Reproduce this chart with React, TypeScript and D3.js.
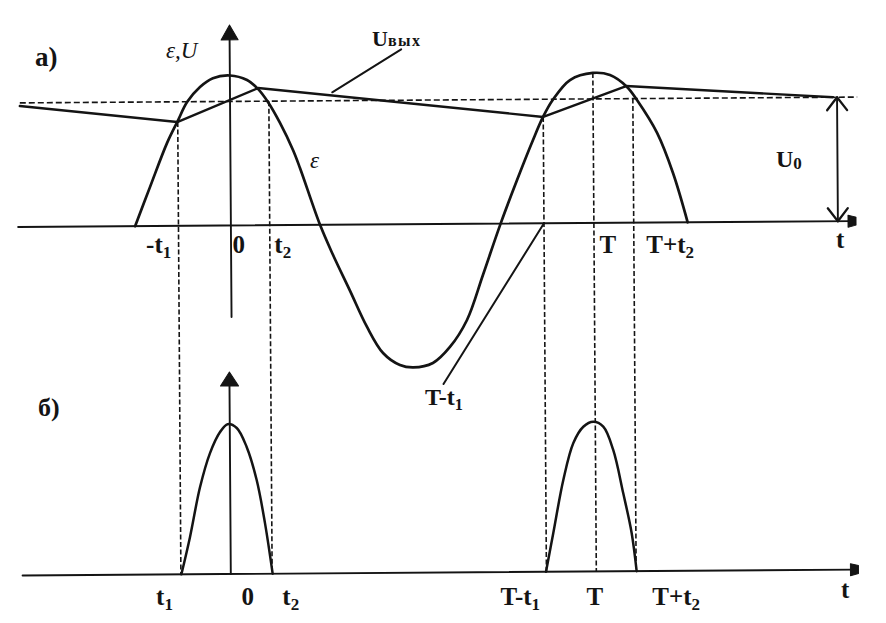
import React from "react";
import * as d3 from "d3";

// ---- data (phase in degrees: 0 = peak at t=0, 360 = T; values relative to peak amplitude) ----
const epsPhase = [-95, -79.9, -62.8, -51.8, -42.6, -29.7, -16.8, 0, 17, 27.8, 37.6, 49.4, 62.1, 68.9, 88.4, 101, 117.6, 134.3, 150, 166.7, 180, 199.4, 216.4, 233.5, 249.7, 267.5, 284.1, 300.2, 310.3, 320, 337.3, 360, 377, 393.8, 403.6, 423.3, 438.8, 453];
const epsValue = [0, 0.261, 0.552, 0.702, 0.825, 0.925, 0.983, 1.0, 0.969, 0.909, 0.821, 0.681, 0.5, 0.38, 0, -0.2, -0.44, -0.683, -0.857, -0.938, -0.955, -0.926, -0.82, -0.641, -0.34, 0, 0.29, 0.556, 0.709, 0.821, 0.954, 1.0, 0.985, 0.905, 0.817, 0.597, 0.329, 0];

const uOutPhase = [-208.5, -52.5, 28, 310.5, 393, 598];
const uOutValue = [0.806, 0.692, 0.915, 0.709, 0.911, 0.827];

const u0Value = 0.827;
const u0Span = [-208.5, 622];
const u0ArrowPhase = 602;

const pulse1Phase = [-51.5, -42.7, -32.4, -22.3, -12.2, -4.6, 4.4, 14.1, 23.8, 31.7, 39];
const pulse1Value = [0, 0.249, 0.581, 0.807, 0.947, 0.999, 0.973, 0.846, 0.625, 0.339, 0];
const pulse2Phase = [310.1, 317.6, 327.9, 338.1, 348.1, 358, 367.9, 377.6, 387.2, 395.3, 400];
const pulse2Value = [0, 0.258, 0.611, 0.857, 0.965, 0.998, 0.965, 0.809, 0.521, 0.255, 0];

const guidePhase = [-52, 38.5, 310.5, 360, 399.5];
const guideTopValue = [0.692, 0.827, 0.709, 1.0, 0.827];

const tickLabelsTop = ["-t_1", "0", "t_2", "T", "T+t_2"];
const tickValuesTop = [-52, 0, 38.5, 360, 399.5];
const tickLabelsBottom = ["t_1", "0", "t_2", "T-t_1", "T", "T+t_2"];
const tickValuesBottom = [-52, 0, 38.5, 310.5, 360, 399.5];

// ---- layout ----
const W = 886;
const H = 623;
const tickDxTop = [-33, 1, 4, 5, 12];
const tickDxBottom = [-23, 10, 12, -44, -8, 18];
const INK = "#141414";
const FONT = "'Liberation Serif', 'Times New Roman', serif";

function Label({ x, y, text, size = 24, weight = "bold", italic = false, subScale = 0.68, subDy = 5 }: any) {
  const parts = text.split("_");
  return (
    <text x={x} y={y} fontFamily={FONT} fontSize={size} fontWeight={weight} fontStyle={italic ? "italic" : "normal"} fill={INK}>
      <tspan>{parts[0]}</tspan>
      {parts[1] !== undefined && (
        <tspan fontSize={size * subScale} dy={subDy}>{parts[1]}</tspan>
      )}
    </text>
  );
}

export default function App() {
  const x = d3.scaleLinear().domain([0, 360]).range([231.5, 594.5]);
  const yTop = d3.scaleLinear().domain([0, 1]).range([224, 74]);
  const yBot = d3.scaleLinear().domain([0, 1]).range([572.5, 422.5]);

  const smooth = d3.curveCatmullRom.alpha(0.5);
  const curveTop = d3.line<[number, number]>().x((d) => x(d[0])).y((d) => yTop(d[1])).curve(smooth);
  const curveBot = d3.line<[number, number]>().x((d) => x(d[0])).y((d) => yBot(d[1])).curve(smooth);
  const polyTop = d3.line<[number, number]>().x((d) => x(d[0])).y((d) => yTop(d[1]));

  const eps = epsPhase.map((p, i) => [p, epsValue[i]] as [number, number]);
  const uOut = uOutPhase.map((p, i) => [p, uOutValue[i]] as [number, number]);
  const p1 = pulse1Phase.map((p, i) => [p, pulse1Value[i]] as [number, number]);
  const p2 = pulse2Phase.map((p, i) => [p, pulse2Value[i]] as [number, number]);

  const topBase = yTop(0);
  const botBase = yBot(0);
  const xLeft = x(-211);
  const xRight = x(616);
  const axTopX = x(0);
  const axBotX = x(-2.5);
  const axTopTip = yTop(1.337);
  const axBotTip = yBot(1.347);
  const u0x = x(u0ArrowPhase);
  const u0y = yTop(u0Value);

  return (
    <svg width={W} height={H} style={{ position: "absolute", left: 0, top: 0, background: "#fff" }}>
      <rect width={W} height={H} fill="#fff" />
      <g transform="rotate(-0.4 443 311)" stroke={INK} fill="none" strokeLinecap="round" strokeLinejoin="round">
        {/* baselines */}
        <line x1={xLeft} y1={topBase} x2={xRight} y2={topBase} strokeWidth={1.9} />
        <path d={`M${xRight - 4},${topBase - 6} L${xRight + 4},${topBase - 4} L${xRight + 4},${topBase + 4} L${xRight - 4},${topBase + 6} Z`} fill={INK} strokeWidth={1} />
        <line x1={xLeft + 2} y1={botBase} x2={xRight} y2={botBase} strokeWidth={1.9} />
        <path d={`M${xRight - 4},${botBase - 6} L${xRight + 4},${botBase - 4} L${xRight + 4},${botBase + 4} L${xRight - 4},${botBase + 6} Z`} fill={INK} strokeWidth={1} />

        {/* vertical axes */}
        <line x1={axTopX} y1={yTop(-0.61)} x2={axTopX} y2={axTopTip + 12} strokeWidth={1.9} />
        <path d={`M${axTopX},${axTopTip} L${axTopX - 8.5},${axTopTip + 15} L${axTopX + 8.5},${axTopTip + 15} Z`} fill={INK} strokeWidth={1} />
        <line x1={axBotX} y1={botBase} x2={axBotX} y2={axBotTip + 12} strokeWidth={1.9} />
        <path d={`M${axBotX},${axBotTip} L${axBotX - 9},${axBotTip + 14} L${axBotX + 9},${axBotTip + 14} Z`} fill={INK} strokeWidth={1} />

        {/* U0 level dashed */}
        <line x1={x(u0Span[0])} y1={u0y} x2={x(u0Span[1])} y2={u0y} strokeWidth={1.6} strokeDasharray="6,3" strokeLinecap="butt" />

        {/* dashed guides */}
        {guidePhase.map((p, i) => (
          <line key={i} x1={x(p)} y1={yTop(guideTopValue[i])} x2={x(p)} y2={botBase} strokeWidth={1.6} strokeDasharray="5,2.5" strokeLinecap="butt" />
        ))}

        {/* epsilon */}
        <path d={curveTop(eps) || ""} strokeWidth={2.7} />
        {/* U out */}
        <path d={polyTop(uOut) || ""} strokeWidth={2.4} />

        {/* U0 double arrow */}
        <line x1={u0x} y1={u0y} x2={u0x} y2={topBase} strokeWidth={1.9} />
        <path d={`M${u0x - 10},${u0y + 13} L${u0x},${u0y} L${u0x + 10},${u0y + 13}`} strokeWidth={2.3} />
        <path d={`M${u0x - 10},${topBase - 13} L${u0x},${topBase} L${u0x + 10},${topBase - 13}`} strokeWidth={2.3} />

        {/* bottom pulses */}
        <path d={curveBot(p1) || ""} strokeWidth={2.5} />
        <path d={curveBot(p2) || ""} strokeWidth={2.5} />

        {/* leader lines */}
        <line x1={403} y1={49} x2={x(101.4)} y2={yTop(0.883)} strokeWidth={2} />
        <line x1={443} y1={384} x2={x(310.5)} y2={topBase} strokeWidth={2} />
      </g>

      {/* panel labels */}
      <Label x={35} y={66} text="а)" size={27} />
      <Label x={38} y={416} text="б)" size={26} />
      <text x={166} y={58} fontFamily={FONT} fontSize={23} fontStyle="italic" fill={INK}>ε,U</text>
      <text x={310} y={168} fontFamily={FONT} fontSize={23} fontStyle="italic" fill={INK}>ε</text>
      <text x={372} y={46} fontFamily={FONT} fontWeight="bold" fill={INK}>
        <tspan fontSize={22}>U</tspan>
        <tspan fontSize={16} letterSpacing={1.5}>вых</tspan>
      </text>
      <text x={776} y={167} fontFamily={FONT} fontWeight="bold" fill={INK}>
        <tspan fontSize={24}>U</tspan>
        <tspan fontSize={17} dy={2}>0</tspan>
      </text>
      <Label x={425} y={405} text="T-t_1" size={24} />

      {/* tick labels */}
      {tickLabelsTop.map((t, i) => (
        <Label key={"t" + i} x={x(tickValuesTop[i]) + tickDxTop[i]} y={topBase + 29} text={t} size={25} />
      ))}
      <Label x={836} y={248} text="t" size={25} />
      {tickLabelsBottom.map((t, i) => (
        <Label key={"b" + i} x={x(tickValuesBottom[i]) + tickDxBottom[i]} y={botBase + 32} text={t} size={25} />
      ))}
      <Label x={841} y={598} text="t" size={25} />
    </svg>
  );
}
